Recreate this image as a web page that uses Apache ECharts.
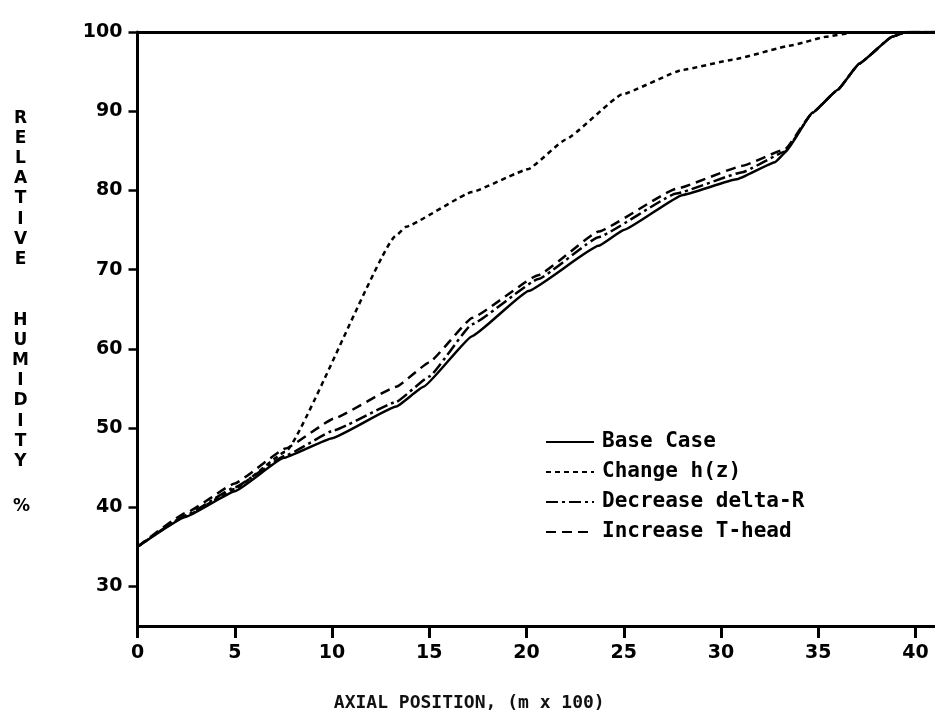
<!DOCTYPE html>
<html>
<head>
<meta charset="utf-8">
<script src="https://cdn.jsdelivr.net/npm/echarts@6/dist/echarts.min.js"></script>
<style>
html, body { margin: 0; padding: 0; background: #fff; }
#chart { width: 935px; height: 717px; }
</style>
</head>
<body>
<div id="chart"></div>
<script>
// values (x in m x 100, y in %)
var seriesNames = ['Base Case', 'Change h(z)', 'Decrease delta-R', 'Increase T-head'];

var baseX = [0, 2.5, 5, 7.5, 10, 13.3, 14.7, 17.2, 20.1, 23.7, 25, 28, 30.8, 32.8, 33.3, 34.7, 36, 37.1, 38.8, 39.5, 41];
var baseY = [35, 38.8, 42, 46.2, 48.7, 52.7, 55.2, 61.6, 67.3, 73, 75, 79.4, 81.4, 83.6, 84.8, 89.8, 92.7, 96, 99.4, 100, 100];

var hzX = [0, 2.5, 5, 7.6, 13.3, 13.8, 17.2, 20.1, 22, 24.9, 28, 30.6, 33.6, 35.4, 36.7, 41];
var hzY = [35, 38.9, 42.3, 47, 74.3, 75.4, 79.8, 82.7, 86.4, 92.1, 95.2, 96.5, 98.3, 99.4, 99.9, 100];

var dRX = [0, 2.5, 5, 7.6, 10.1, 13.3, 15, 17.2, 20.6, 23.7, 27.7, 31.1, 33.3, 34.7, 36, 37.1, 38.8, 39.5, 41];
var dRY = [35, 39, 42.5, 46.5, 49.7, 53.3, 56.5, 63.1, 68.8, 74.1, 79.6, 82.3, 84.9, 89.8, 92.7, 96, 99.4, 100, 100];

var tHX = [0, 2.5, 5, 7.6, 10.1, 13.3, 15, 17.2, 20.6, 23.7, 27.7, 31.1, 33.3, 34.7, 36, 37.1, 38.8, 39.5, 41];
var tHY = [35, 39.3, 43, 47.4, 51.2, 55.2, 58.3, 63.9, 69.3, 74.8, 80.2, 83.1, 85.2, 89.8, 92.7, 96, 99.4, 100, 100];

var xTicks = [0, 5, 10, 15, 20, 25, 30, 35, 40];
var yTicks = [30, 40, 50, 60, 70, 80, 90, 100];

function pairs(xs, ys) {
  var out = [];
  for (var i = 0; i < xs.length; i++) out.push([xs[i], ys[i]]);
  return out;
}

var chart = echarts.init(document.getElementById('chart'));

function line(name, xs, ys, dash) {
  return {
    name: name,
    type: 'line',
    symbol: 'none',
    smooth: 0.1,
    smoothMonotone: 'x',
    lineStyle: { color: '#000', width: 2.5, type: dash },
    itemStyle: { color: '#000' },
    data: pairs(xs, ys)
  };
}

var option = {
  animation: false,
  backgroundColor: '#fff',
  grid: { left: 137.5, right: 0, top: 32, bottom: 88, containLabel: false },
  legend: {
    orient: 'vertical',
    left: 540,
    top: 426,
    itemWidth: 48,
    itemHeight: 14,
    itemGap: 8,
    data: seriesNames,
    itemStyle: { opacity: 0 },
    textStyle: {
      color: '#000',
      fontFamily: 'DejaVu Sans Mono',
      fontWeight: 'bold',
      fontSize: 21,
      lineHeight: 22,
      padding: [0, 0, 0, 3]
    }
  },
  xAxis: [{
    type: 'value',
    min: 0,
    max: 41,
    splitLine: { show: false },
    axisLine: { lineStyle: { color: '#000', width: 3 } },
    axisTick: { length: 12, lineStyle: { color: '#000', width: 3 }, customValues: xTicks },
    axisLabel: {
      customValues: xTicks,
      margin: 18,
      color: '#000',
      fontFamily: 'DejaVu Sans',
      fontWeight: 'bold',
      fontSize: 19
    },
    name: 'AXIAL POSITION, (m x 100)',
    nameLocation: 'middle',
    nameGap: 68,
    nameTextStyle: {
      color: '#111',
      fontFamily: 'DejaVu Sans Mono',
      fontWeight: 'bold',
      fontSize: 18,
      padding: [0, 134, 0, 0]
    }
  }, {
    type: 'value',
    position: 'top',
    min: 0,
    max: 41,
    splitLine: { show: false },
    axisLine: { lineStyle: { color: '#000', width: 3 } },
    axisTick: { show: false },
    axisLabel: { show: false }
  }],
  yAxis: {
    type: 'value',
    min: 25,
    max: 100,
    splitLine: { show: false },
    axisLine: { show: true, lineStyle: { color: '#000', width: 3 } },
    axisTick: { show: true, length: 9, lineStyle: { color: '#000', width: 2.5 }, customValues: yTicks },
    axisLabel: {
      customValues: yTicks,
      margin: 15,
      color: '#000',
      fontFamily: 'DejaVu Sans',
      fontWeight: 'bold',
      fontSize: 19,
      padding: [0, 0, 10, 0]
    }
  },
  graphic: [{
    type: 'text',
    left: 12,
    top: 108,
    style: {
      text: 'R\nE\nL\nA\nT\nI\nV\nE\n\n\nH\nU\nM\nI\nD\nI\nT\nY',
      fill: '#000',
      font: 'bold 17px "DejaVu Sans"',
      lineHeight: 20.2,
      textAlign: 'center'
    }
  }, {
    type: 'text',
    left: 13,
    top: 498,
    style: {
      text: '%',
      fill: '#000',
      font: 'bold 17px "DejaVu Sans"'
    }
  }],
  series: [
    line(seriesNames[0], baseX, baseY, 'solid'),
    line(seriesNames[1], hzX, hzY, [5, 4]),
    line(seriesNames[2], dRX, dRY, [12, 4, 3, 4]),
    line(seriesNames[3], tHX, tHY, [10, 6])
  ]
};

chart.setOption(option);
</script>
</body>
</html>
